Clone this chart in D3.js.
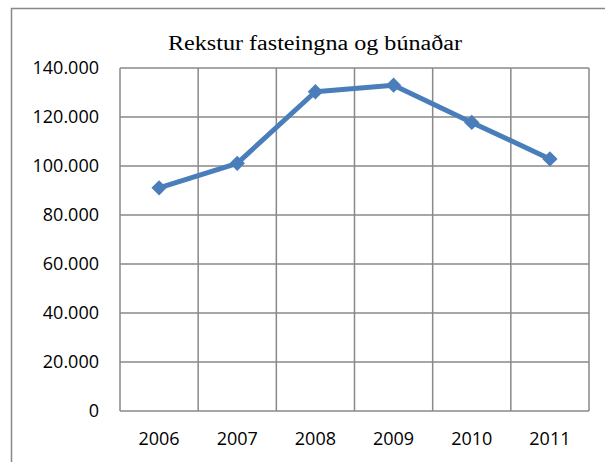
<!DOCTYPE html>
<html lang="is">
<head>
<meta charset="UTF-8">
<script src="https://d3js.org/d3.v7.min.js"></script>
<style>
  body { margin: 0; background: #fff; }
  svg { display: block; }
</style>
</head>
<body>
<div id="chart"></div>
<script>
// data
const years = ["2006", "2007", "2008", "2009", "2010", "2011"];
const values = [91100, 101100, 130300, 133000, 117800, 102900];
const yTicks = [0, 20000, 40000, 60000, 80000, 100000, 120000, 140000];
const title = "Rekstur fasteingna og búnaðar";

const width = 605, height = 462;
const plot = { left: 120, right: 589, top: 68, bottom: 411 };

const svg = d3.select("#chart").append("svg")
    .attr("width", width)
    .attr("height", height);

// chart frame (runs off the right and bottom of the picture)
svg.append("rect")
    .attr("x", 11.5).attr("y", 8.5)
    .attr("width", 620).attr("height", 480)
    .attr("fill", "none")
    .attr("stroke", "#888")
    .attr("stroke-width", 1.5);

const x = d3.scaleBand().domain(years).range([plot.left, plot.right]);
const y = d3.scaleLinear().domain([0, 140000]).range([plot.bottom, plot.top]);

const fmt = d => d3.format(",")(d).replace(/,/g, ".");

// grid
const grid = svg.append("g").attr("stroke", "#898989").attr("stroke-width", 1.5);
grid.selectAll("line.h")
    .data(yTicks)
    .enter().append("line")
    .attr("x1", plot.left).attr("x2", plot.right)
    .attr("y1", d => y(d)).attr("y2", d => y(d));
grid.selectAll("line.v")
    .data(years.concat(["end"]))
    .enter().append("line")
    .attr("x1", (d, i) => plot.left + i * x.step())
    .attr("x2", (d, i) => plot.left + i * x.step())
    .attr("y1", plot.top).attr("y2", plot.bottom);

// y axis labels
svg.append("g")
    .selectAll("text")
    .data(yTicks)
    .enter().append("text")
    .attr("x", 99)
    .attr("y", d => y(d))
    .attr("dy", "0.36em")
    .attr("text-anchor", "end")
    .attr("font-family", "'Open Sans', sans-serif")
    .attr("font-size", 18)
    .attr("fill", "#000")
    .text(d => fmt(d));

// x axis labels
svg.append("g")
    .selectAll("text")
    .data(years)
    .enter().append("text")
    .attr("x", d => x(d) + x.bandwidth() / 2)
    .attr("y", 439)
    .attr("dy", "0.36em")
    .attr("text-anchor", "middle")
    .attr("font-family", "'Open Sans', sans-serif")
    .attr("font-size", 18)
    .attr("fill", "#000")
    .text(d => d);

// title (a little wider than the font, as in the picture)
svg.append("text")
    .attr("x", 168)
    .attr("y", 50)
    .attr("textLength", 294)
    .attr("lengthAdjust", "spacingAndGlyphs")
    .attr("font-family", "'Liberation Serif', 'Times New Roman', serif")
    .attr("font-size", 20)
    .attr("fill", "#000")
    .text(title);

// series
const pts = years.map((d, i) => [x(d) + x.bandwidth() / 2, y(values[i])]);

svg.append("path")
    .attr("d", d3.line()(pts))
    .attr("fill", "none")
    .attr("stroke", "#4a7ebb")
    .attr("stroke-width", 5)
    .attr("stroke-linejoin", "round");

svg.selectAll("path.marker")
    .data(pts)
    .enter().append("path")
    .attr("class", "marker")
    .attr("d", d3.symbol().type(d3.symbolDiamond2).size(150))
    .attr("transform", d => `translate(${d[0]},${d[1]})`)
    .attr("fill", "#4a7ebb");
</script>
</body>
</html>
